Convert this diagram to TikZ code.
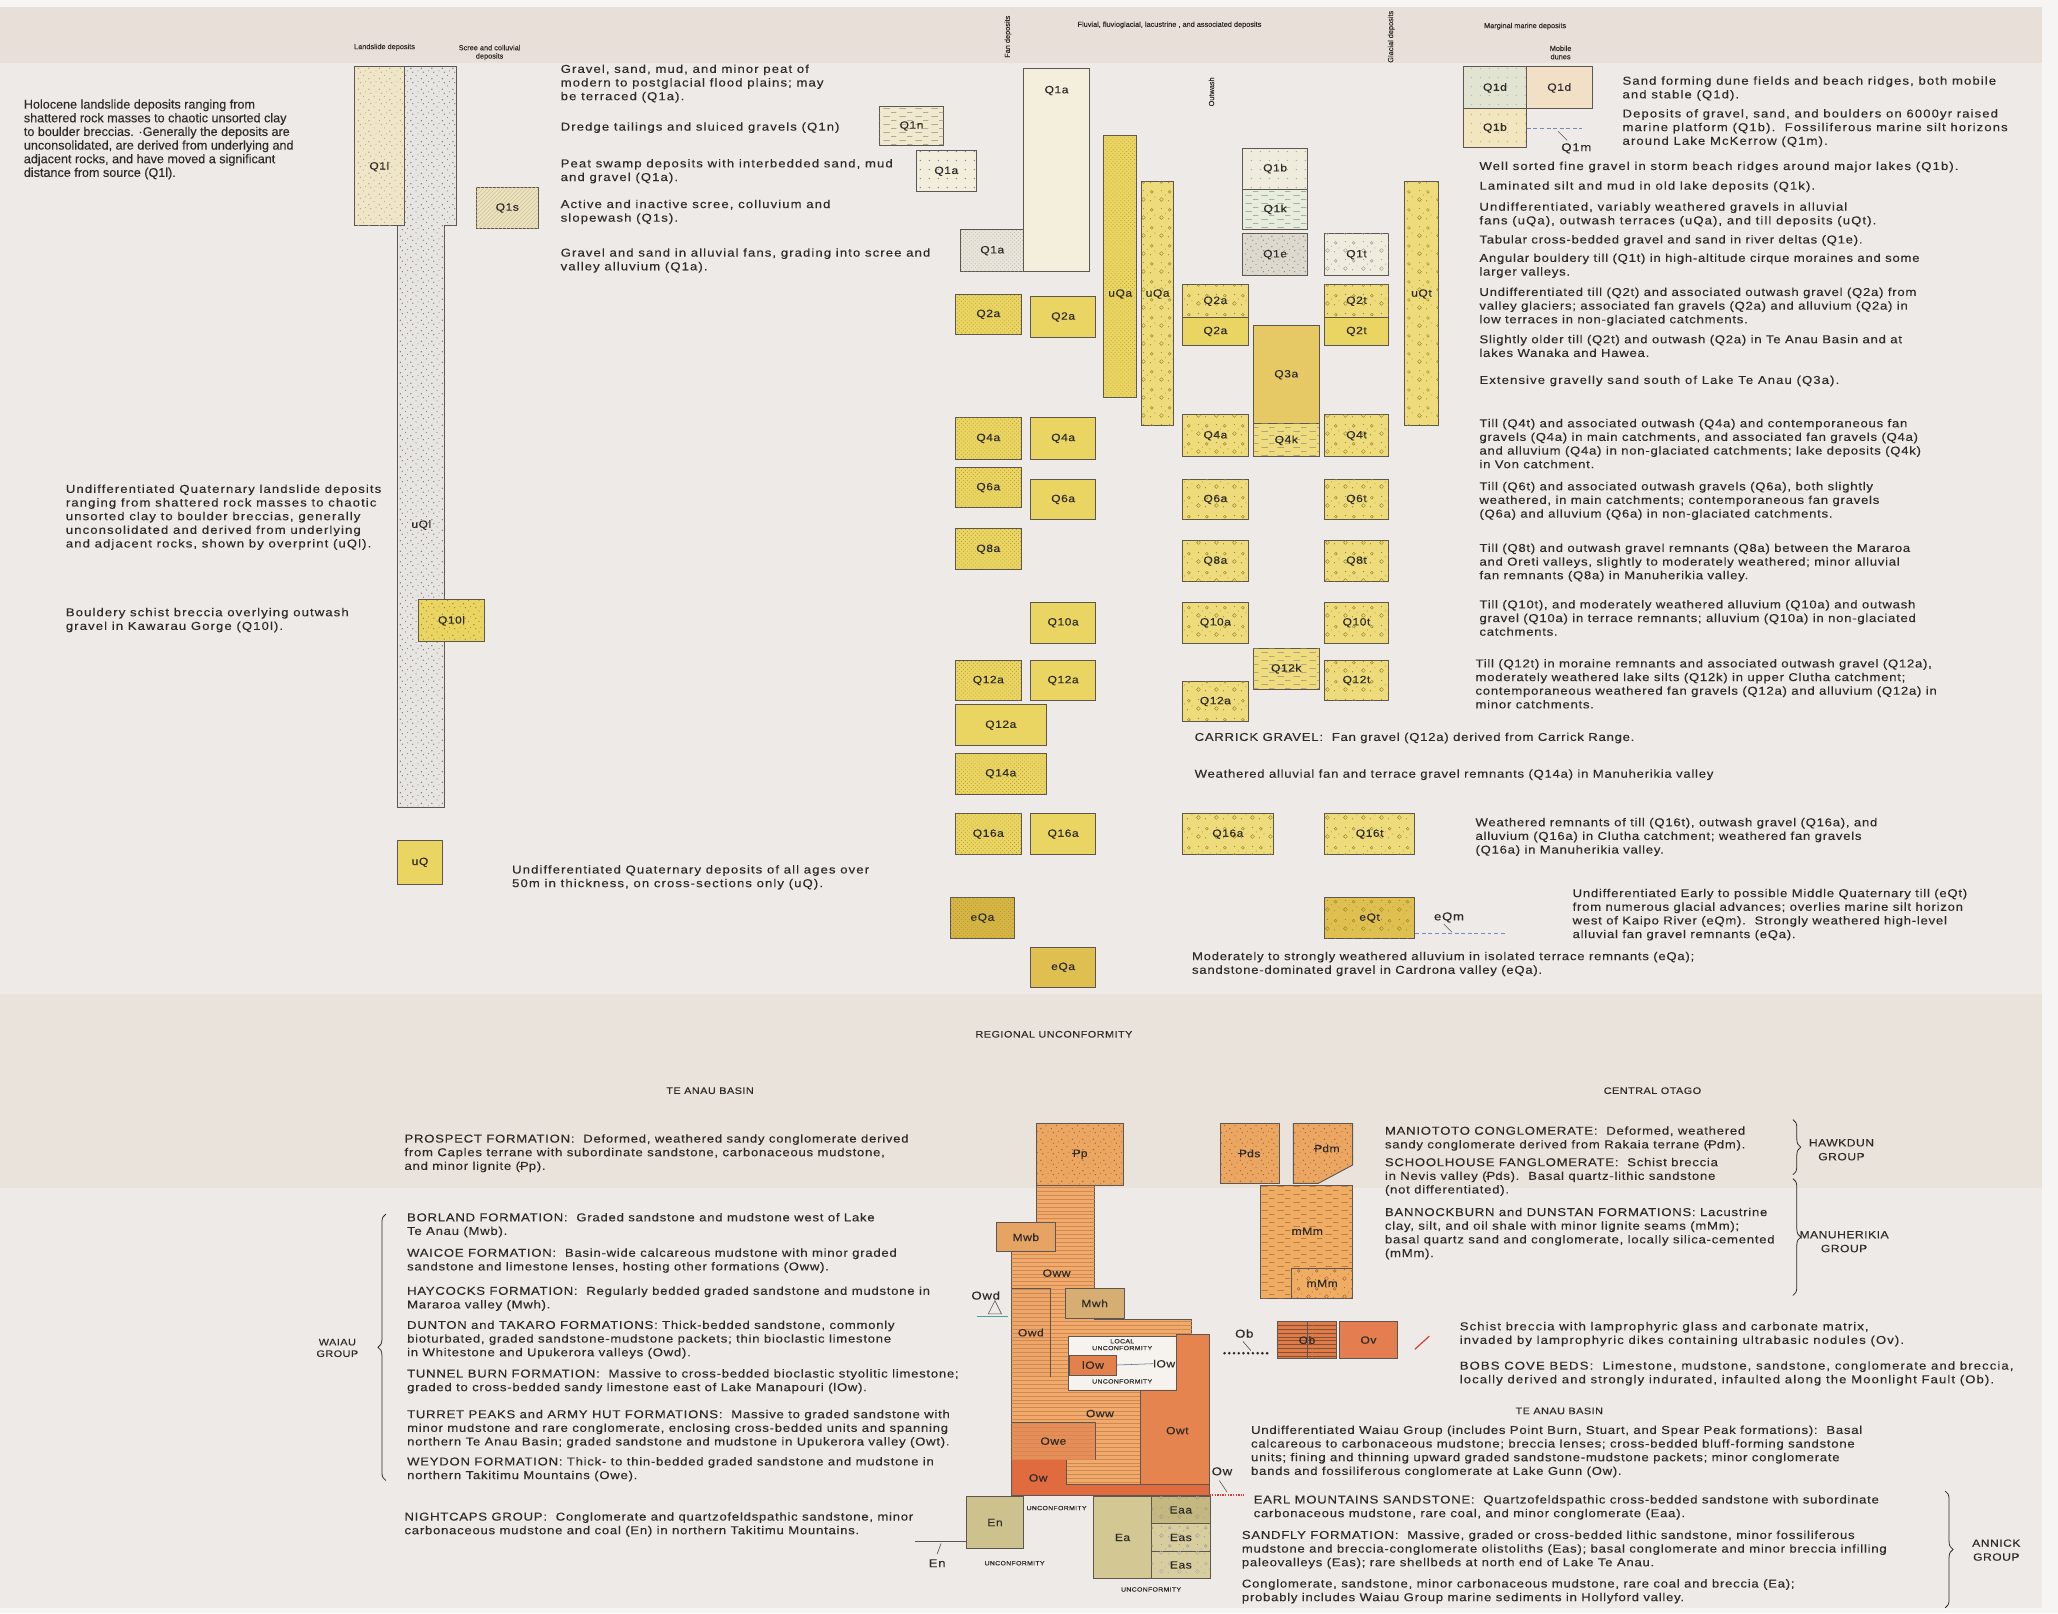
\documentclass[tikz,border=0pt]{standalone}
\usepackage{fontspec}
\setmainfont{Liberation Sans}
\newfontfamily\tff[FakeStretch=1.15,LetterSpace=6.5,FakeBold=0.2]{Liberation Sans}
\newfontfamily\tffw[FakeStretch=1.15,LetterSpace=9.5,FakeBold=0.2]{Liberation Sans}
\newfontfamily\tffl[FakeStretch=1.15,LetterSpace=5,FakeBold=0.15]{Liberation Sans}
\newfontfamily\hff[FakeBold=0.2]{Liberation Sans}
\usetikzlibrary{patterns,decorations.pathreplacing}

\definecolor{cBg}{HTML}{EDEAE7}
\definecolor{cHead}{HTML}{E8E0D8}
\definecolor{cBand}{HTML}{EAE3DC}
\definecolor{cEdge}{HTML}{F7F5F3}
\definecolor{cTxt}{HTML}{2E2A27}
\definecolor{cLn}{HTML}{5E5650}
\definecolor{cY}{HTML}{EAD563}
\definecolor{cYd}{HTML}{9C8624}
\definecolor{cYo}{HTML}{EEDC7C}
\definecolor{cQt}{HTML}{E6C865}
\definecolor{cYk}{HTML}{EFDC7E}
\definecolor{cEQ}{HTML}{D6B545}
\definecolor{cEQb}{HTML}{DFBF50}
\definecolor{cBei}{HTML}{EFE5C9}
\definecolor{cGry}{HTML}{E7E5E1}
\definecolor{cQa}{HTML}{F4EFDD}
\definecolor{cQfan}{HTML}{E8E4DA}
\definecolor{cQn}{HTML}{F1E9CE}
\definecolor{cQp}{HTML}{F2EEDB}
\definecolor{cQb}{HTML}{F0ECDD}
\definecolor{cQk}{HTML}{E7EDDD}
\definecolor{cQe}{HTML}{DDD9CF}
\definecolor{cQs}{HTML}{EDE3C3}
\definecolor{cQdg}{HTML}{E1E4D1}
\definecolor{cQdp}{HTML}{F1E0C6}
\definecolor{cQbm}{HTML}{F1E6BF}
\definecolor{cPp}{HTML}{EBA762}
\definecolor{cOww}{HTML}{F0AA6C}
\definecolor{cMwb}{HTML}{E6A464}
\definecolor{cMwh}{HTML}{D6AE74}
\definecolor{cOwd}{HTML}{ECA66A}
\definecolor{cOwe}{HTML}{E88D58}
\definecolor{cOwt}{HTML}{E6844F}
\definecolor{cOw}{HTML}{E06B3F}
\definecolor{cLow}{HTML}{E3814D}
\definecolor{cEn}{HTML}{CDC18E}
\definecolor{cEa}{HTML}{D3C894}
\definecolor{cEaa}{HTML}{C4B880}
\definecolor{cEas}{HTML}{D7CD9F}
\definecolor{cMm}{HTML}{EEAD62}
\definecolor{cOb}{HTML}{DE7B4B}
\definecolor{cOv}{HTML}{E47E51}
\definecolor{cOrL}{HTML}{A8603A}
\definecolor{cOrF}{HTML}{D08850}
\definecolor{cTeal}{HTML}{3FA89A}
\definecolor{cBlu}{HTML}{6F8FB8}
\definecolor{cRed}{HTML}{D83A3A}
\definecolor{cWin}{HTML}{F6F3EF}

\pgfdeclarepatternformonly{gravel}{\pgfqpoint{-1pt}{-1pt}}{\pgfqpoint{9pt}{9pt}}{\pgfqpoint{8pt}{8pt}}{%
 \pgfpathcircle{\pgfqpoint{1pt}{1pt}}{0.55pt}%
 \pgfpathcircle{\pgfqpoint{5pt}{3.5pt}}{0.45pt}%
 \pgfpathcircle{\pgfqpoint{2.5pt}{6pt}}{0.5pt}%
 \pgfpathcircle{\pgfqpoint{6.5pt}{7pt}}{0.4pt}%
 \pgfusepath{fill}}
\pgfdeclarepatternformonly{finedots}{\pgfqpoint{-0.5pt}{-0.5pt}}{\pgfqpoint{3.5pt}{3.5pt}}{\pgfqpoint{3pt}{3pt}}{%
 \pgfpathcircle{\pgfqpoint{0.5pt}{0.5pt}}{0.3pt}%
 \pgfpathcircle{\pgfqpoint{2pt}{2pt}}{0.3pt}%
 \pgfusepath{fill}}
\pgfdeclarepatternformonly{pebbles}{\pgfqpoint{0pt}{0pt}}{\pgfqpoint{14pt}{14pt}}{\pgfqpoint{14pt}{14pt}}{%
 \pgfsetlinewidth{0.35pt}%
 \pgfpathcircle{\pgfqpoint{3.5pt}{3.5pt}}{1.5pt}%
 \pgfpathcircle{\pgfqpoint{10pt}{9.5pt}}{1.1pt}%
 \pgfusepath{stroke}%
 \pgfpathcircle{\pgfqpoint{9pt}{2.5pt}}{0.45pt}%
 \pgfpathcircle{\pgfqpoint{3.5pt}{10.5pt}}{0.45pt}%
 \pgfpathcircle{\pgfqpoint{12.5pt}{5.5pt}}{0.4pt}%
 \pgfpathcircle{\pgfqpoint{6.5pt}{7pt}}{0.4pt}%
 \pgfusepath{fill}}
\pgfdeclarepatternformonly{dashrows}{\pgfqpoint{0pt}{-0.5pt}}{\pgfqpoint{12pt}{5.5pt}}{\pgfqpoint{12pt}{6pt}}{%
 \pgfsetlinewidth{0.35pt}%
 \pgfpathmoveto{\pgfqpoint{1pt}{0pt}}\pgfpathlineto{\pgfqpoint{6pt}{0pt}}%
 \pgfpathmoveto{\pgfqpoint{7pt}{3pt}}\pgfpathlineto{\pgfqpoint{11pt}{3pt}}%
 \pgfusepath{stroke}}
\pgfdeclarepatternformonly{sparsedots}{\pgfqpoint{0pt}{0pt}}{\pgfqpoint{7pt}{7pt}}{\pgfqpoint{7pt}{7pt}}{%
 \pgfpathcircle{\pgfqpoint{2pt}{2pt}}{0.6pt}%
 \pgfusepath{fill}}

\newcommand\mytf{\tff\fontsize{8.7}{10.4}\selectfont}
\newcommand\mytfw{\tffw\fontsize{8.7}{10.4}\selectfont}
\newcommand\myhf{\hff\fontsize{9.6}{10.4}\selectfont}
\newcommand\mylf{\tffl\fontsize{8}{9}\selectfont}
\newcommand\myhd{\hff\fontsize{5.6}{6.3}\selectfont}
\newcommand\mycap{\tffl\fontsize{7.2}{8.8}\selectfont}
\newcommand\myun{\tffl\fontsize{4.6}{5.2}\selectfont}
\newcommand{\PB}{\ooalign{P\cr\kern-0.06em\rule[0.32em]{0.34em}{0.055em}\cr}}

\tikzset{
 bxs/.style={draw=cLn, line width=0.7pt, inner sep=0pt, font=\mylf, text=cTxt, fill=cY},
 txt/.style={anchor=north west, inner sep=0pt, align=left, font=\mytf, text=cTxt},
 txtw/.style={txt, font=\mytfw},
 htxt/.style={txt, font=\myhf},
 hd/.style={inner sep=0pt, font=\myhd, text=cTxt, align=center},
 capt/.style={inner sep=0pt, font=\mycap, text=cTxt, align=center},
 lab/.style={inner sep=0pt, font=\mylf, text=cTxt},
 unc/.style={inner sep=0pt, font=\myun, text=cTxt, align=center},
 yd/.style={postaction={pattern=finedots, pattern color=cYd}},
 pb/.style={fill=cYo, postaction={pattern=pebbles, pattern color=cYd}},
 dr/.style={postaction={pattern=dashrows, pattern color=cLn!70}},
 gv/.style={postaction={pattern=gravel, pattern color=#1}},
 hl/.style={postaction={pattern=horizontal lines, pattern color=#1}},
 shp/.style={draw=cLn, line width=0.7pt},
 brc/.style={draw=cTxt, line width=0.6pt, decorate, decoration={brace, amplitude=6pt}},
}
\newcommand{\bx}[7]{\node[bxs, #6, minimum width={(#4-#2)*1pt}, minimum height={(#5-#3)*1pt}] (#1) at ({(#2+#4)/2},{(#3+#5)/2}) {#7};}
\newcommand{\tx}[4]{\node[txt] (#1) at (#2,{#3-4}) {#4};}
\newcommand{\txw}[4]{\node[txtw] (#1) at (#2,{#3-4}) {#4};}

\begin{document}
\begin{tikzpicture}[x=1pt,y=-1pt]
\useasboundingbox (0,0) rectangle (1568,1229);
% background bands
\fill[cBg] (0,0) rectangle (1568,1229);
\fill[cHead] (0,5) rectangle (1556,48);
\fill[cBand] (0,757) rectangle (1556,905);
\fill[cEdge] (0,0) rectangle (1568,5);
\fill[cEdge] (1556,0) rectangle (1568,1229);
\fill[cEdge] (0,1225) rectangle (1568,1229);

% ---------- headers ----------
\node[hd] (hLand) at (293,36) {Landslide deposits};
\node[hd] (hScree) at (373,40) {Scree and colluvial\\deposits};
\node[hd, rotate=90] (hFan) at (768,28) {Fan deposits};
\node[hd] (hFluv) at (891,19) {Fluvial, fluvioglacial, lacustrine , and associated deposits};
\node[hd, rotate=90] (hOut) at (923,70) {Outwash};
\node[hd, rotate=90] (hGlac) at (1060,28) {Glacial deposits};
\node[hd] (hMarg) at (1162,20) {Marginal marine deposits};
\node[hd] (hMob) at (1189,40) {Mobile\\dunes};

% ---------- landslide / scree ----------
\bx{Ql}{270}{51}{308}{172}{fill=cBei, gv=cYd!70}{}
\node[lab] (QlL) at (289,127) {Q1l};
\draw[shp, fill=cGry, gv=cLn!80] (308,51) -- (348,51) -- (348,172) -- (339,172) -- (339,615) -- (303,615) -- (303,172) -- (308,172) -- cycle;
\node[lab] (uQlL) at (321,400) {uQl};
\bx{Qtenl}{319}{457}{369}{489}{gv=cYd}{Q10l}
\bx{uQ}{303}{640}{337}{674}{}{uQ}
\bx{Qs}{363}{143}{410}{174}{fill=cQs, postaction={pattern=north east lines, pattern color=cYd!50}}{Q1s}

\node[htxt] (tHolo) at (18,75.6) {Holocene landslide deposits ranging from\\shattered rock masses to chaotic unsorted clay\\to boulder breccias. ·Generally the deposits are\\unconsolidated, are derived from underlying and\\adjacent rocks, and have moved a significant\\distance from source (Q1l).};
\txw{tuQl}{50}{373}{Undifferentiated Quaternary landslide deposits\\ranging from shattered rock masses to chaotic\\unsorted clay to boulder breccias, generally\\unconsolidated and derived from underlying\\and adjacent rocks, shown by overprint (uQl).}
\txw{tQtenl}{50}{467}{Bouldery schist breccia overlying outwash\\gravel in Kawarau Gorge (Q10l).}
\txw{tuQ}{390}{663}{Undifferentiated Quaternary deposits of all ages over\\50m in thickness, on cross-sections only (uQ).}

% ---------- middle text ----------
\txw{tFlood}{427}{53}{Gravel, sand, mud, and minor peat of\\modern to postglacial flood plains; may\\be terraced (Q1a).}
\txw{tDredge}{427}{97}{Dredge tailings and sluiced gravels (Q1n)}
\txw{tPeat}{427}{125}{Peat swamp deposits with interbedded sand, mud\\and gravel (Q1a).}
\txw{tScree}{427}{156}{Active and inactive scree, colluvium and\\slopewash (Q1s).}
\txw{tFanQ}{427}{193}{Gravel and sand in alluvial fans, grading into scree and\\valley alluvium (Q1a).}

% ---------- fluvial boxes ----------
\bx{Qn}{670}{81}{719}{111}{fill=cQn, dr}{Q1n}
\bx{Qp}{698}{115}{744}{146}{fill=cQp, postaction={pattern=sparsedots, pattern color=cBlu}}{Q1a}
\bx{QaBig}{780}{52}{830}{207}{fill=cQa}{}
\node[lab] (QaBigL) at (805,69) {Q1a};
\bx{QaFan}{732}{175}{780}{207}{fill=cQfan, postaction={pattern=finedots, pattern color=cLn!60}}{Q1a}
\bx{uQaA}{841}{103}{866}{303}{yd}{}
\node[lab] (uQaAL) at (853.5,224) {uQa};
\bx{uQaB}{870}{138}{894}{324}{pb}{}
\node[lab] (uQaBL) at (882,224) {uQa};
\bx{uQt}{1070}{138}{1096}{324}{pb}{}
\node[lab] (uQtL) at (1083,224) {uQt};

\bx{Qb}{947}{113}{996}{144}{fill=cQb, postaction={pattern=sparsedots, pattern color=cLn!50}}{Q1b}
\bx{Qk}{947}{144}{996}{175}{fill=cQk, dr}{Q1k}
\bx{Qe}{947}{178}{996}{210}{fill=cQe, gv=cLn!70}{Q1e}
\bx{Qt}{1009}{178}{1058}{210}{fill=cQb, postaction={pattern=pebbles, pattern color=cLn!60}}{Q1t}

\bx{QtwoaF}{728}{224}{778}{255}{yd}{Q2a}
\bx{QtwoaP}{785}{226}{835}{257}{}{Q2a}
\bx{QtwoaO}{901}{217}{951}{242}{pb}{Q2a}
\bx{QtwoaOb}{901}{242}{951}{263}{}{Q2a}
\bx{Qtwot}{1009}{217}{1058}{242}{pb}{Q2t}
\bx{Qtwotb}{1009}{242}{1058}{263}{}{Q2t}
\bx{Qthree}{955}{248}{1005}{323}{fill=cQt}{Q3a}
\bx{Qfourk}{955}{323}{1005}{348}{fill=cYk, dr}{Q4k}

\bx{QfouraF}{728}{318}{778}{350}{yd}{Q4a}
\bx{QfouraP}{785}{318}{835}{350}{}{Q4a}
\bx{QfouraO}{901}{316}{951}{348}{pb}{Q4a}
\bx{Qfourt}{1009}{316}{1058}{348}{pb}{Q4t}

\bx{QsixaF}{728}{356}{778}{387}{yd}{Q6a}
\bx{QsixaP}{785}{365}{835}{396}{}{Q6a}
\bx{QsixaO}{901}{365}{951}{396}{pb}{Q6a}
\bx{Qsixt}{1009}{365}{1058}{396}{pb}{Q6t}

\bx{QeightaF}{728}{403}{778}{434}{yd}{Q8a}
\bx{QeightaO}{901}{412}{951}{443}{pb}{Q8a}
\bx{Qeightt}{1009}{412}{1058}{443}{pb}{Q8t}

\bx{QtenaP}{785}{459}{835}{490}{}{Q10a}
\bx{QtenaO}{901}{459}{951}{490}{pb}{Q10a}
\bx{Qtent}{1009}{459}{1058}{490}{pb}{Q10t}

\bx{Qtwelvek}{955}{494}{1005}{525}{fill=cYk, dr}{Q12k}
\bx{QtwelveaF}{728}{503}{778}{534}{yd}{Q12a}
\bx{QtwelveaP}{785}{503}{835}{534}{}{Q12a}
\bx{QtwelveaO}{901}{519}{951}{550}{pb}{Q12a}
\bx{Qtwelvet}{1009}{503}{1058}{534}{pb}{Q12t}
\bx{QtwelveaW}{728}{537}{797}{568}{}{Q12a}
\bx{Qfourteen}{728}{574}{797}{605}{yd}{Q14a}
\bx{QsixteenaF}{728}{620}{778}{651}{yd}{Q16a}
\bx{QsixteenaP}{785}{620}{835}{651}{}{Q16a}
\bx{QsixteenaO}{901}{620}{970}{651}{pb}{Q16a}
\bx{Qsixteent}{1009}{620}{1078}{651}{pb}{Q16t}
\bx{eQaD}{724}{684}{773}{715}{fill=cEQ, yd}{eQa}
\bx{eQt}{1009}{684}{1078}{715}{pb, fill=cEQb}{eQt}
\bx{eQaP}{785}{722}{835}{752}{fill=cEQb}{eQa}

\node[lab, font=\mytf] (eQmL) at (1104,699) {eQm};
\coordinate (eQmEnd) at (1148,711);
\draw[cBlu, densely dashed, line width=0.5pt] (eQt.east |- eQmEnd) -- (eQmEnd);
\draw[cLn, line width=0.4pt] (1100,704) -- (1106,710);

% ---------- marginal marine ----------
\bx{Qdg}{1115}{51}{1163}{83}{fill=cQdg, postaction={pattern=sparsedots, pattern color=cLn!40}}{Q1d}
\bx{Qdp}{1163}{51}{1213}{83}{fill=cQdp}{Q1d}
\bx{Qbm}{1115}{83}{1163}{112}{fill=cQbm, postaction={pattern=sparsedots, pattern color=cYd!60}}{Q1b}
\coordinate (QmEnd) at (1205,98);
\draw[cBlu, densely dashed, line width=0.5pt] (Qbm.east |- QmEnd) -- (QmEnd);
\draw[cLn, line width=0.4pt] (1187,100) -- (1194,107);
\node[lab, font=\mytf] (QmL) at (1201,113) {Q1m};

% ---------- right text ----------
\txw{tDune}{1236}{62}{Sand forming dune fields and beach ridges, both mobile\\and stable (Q1d).}
\txw{tRaised}{1236}{87}{Deposits of gravel, sand, and boulders on 6000yr raised\\marine platform (Q1b).\ \ Fossiliferous marine silt horizons\\around Lake McKerrow (Q1m).}
\txw{tBeach}{1127}{127}{Well sorted fine gravel in storm beach ridges around major lakes (Q1b).}
\txw{tLake}{1127}{142}{Laminated silt and mud in old lake deposits (Q1k).}
\txw{tuQa}{1127}{158}{Undifferentiated, variably weathered gravels in alluvial\\fans (uQa), outwash terraces (uQa), and till deposits (uQt).}
\tx{tDelta}{1127}{183}{Tabular cross-bedded gravel and sand in river deltas (Q1e).}
\tx{tCirque}{1127}{197}{Angular bouldery till (Q1t) in high-altitude cirque moraines and some\\larger valleys.}
\tx{tQtwo}{1127}{223}{Undifferentiated till (Q2t) and associated outwash gravel (Q2a) from\\valley glaciers; associated fan gravels (Q2a) and alluvium (Q2a) in\\low terraces in non-glaciated catchments.}
\tx{tQtwob}{1127}{259}{Slightly older till (Q2t) and outwash (Q2a) in Te Anau Basin and at\\lakes Wanaka and Hawea.}
\txw{tQthree}{1127}{290}{Extensive gravelly sand south of Lake Te Anau (Q3a).}
\tx{tQfour}{1127}{323}{Till (Q4t) and associated outwash (Q4a) and contemporaneous fan\\gravels (Q4a) in main catchments, and associated fan gravels (Q4a)\\and alluvium (Q4a) in non-glaciated catchments; lake deposits (Q4k)\\in Von catchment.}
\tx{tQsix}{1127}{371}{Till (Q6t) and associated outwash gravels (Q6a), both slightly\\weathered, in main catchments; contemporaneous fan gravels\\(Q6a) and alluvium (Q6a) in non-glaciated catchments.}
\tx{tQeight}{1127}{418}{Till (Q8t) and outwash gravel remnants (Q8a) between the Mararoa\\and Oreti valleys, slightly to moderately weathered; minor alluvial\\fan remnants (Q8a) in Manuherikia valley.}
\tx{tQten}{1127}{461}{Till (Q10t), and moderately weathered alluvium (Q10a) and outwash\\gravel (Q10a) in terrace remnants; alluvium (Q10a) in non-glaciated\\catchments.}
\tx{tQtwelve}{1124}{506}{Till (Q12t) in moraine remnants and associated outwash gravel (Q12a),\\moderately weathered lake silts (Q12k) in upper Clutha catchment;\\contemporaneous weathered fan gravels (Q12a) and alluvium (Q12a) in\\minor catchments.}
\tx{tCarrick}{910}{562}{CARRICK GRAVEL:\ \ Fan gravel (Q12a) derived from Carrick Range.}
\tx{tQfourteen}{910}{590}{Weathered alluvial fan and terrace gravel remnants (Q14a) in Manuherikia valley}
\tx{tQsixteen}{1124}{627}{Weathered remnants of till (Q16t), outwash gravel (Q16a), and\\alluvium (Q16a) in Clutha catchment; weathered fan gravels\\(Q16a) in Manuherikia valley.}
\tx{teQt}{1198}{681}{Undifferentiated Early to possible Middle Quaternary till (eQt)\\from numerous glacial advances; overlies marine silt horizon\\west of Kaipo River (eQm).\ \ Strongly weathered high-level\\alluvial fan gravel remnants (eQa).}
\tx{teQa}{908}{729}{Moderately to strongly weathered alluvium in isolated terrace remnants (eQa);\\sandstone-dominated gravel in Cardrona valley (eQa).}

% ---------- lower headings ----------
\node[capt] (hRegU) at (803,788) {REGIONAL UNCONFORMITY};
\node[capt] (hTeAnau) at (541,831) {TE ANAU BASIN};
\node[capt] (hCentral) at (1259,831) {CENTRAL OTAGO};
\node[capt] (hTeAnauB) at (1188,1075) {TE ANAU BASIN};

% ---------- lower left text ----------
\tx{tProspect}{308}{868}{PROSPECT FORMATION:\ \ Deformed, weathered sandy conglomerate derived\\from Caples terrane with subordinate sandstone, carbonaceous mudstone,\\and minor lignite (\PB p).}
\tx{tBorland}{310}{928}{BORLAND FORMATION:\ \ Graded sandstone and mudstone west of Lake\\Te Anau (Mwb).}
\tx{tWaicoe}{310}{955}{WAICOE FORMATION:\ \ Basin-wide calcareous mudstone with minor graded\\sandstone and limestone lenses, hosting other formations (Oww).}
\tx{tHaycocks}{310}{984}{HAYCOCKS FORMATION:\ \ Regularly bedded graded sandstone and mudstone in\\Mararoa valley (Mwh).}
\tx{tDunton}{310}{1010}{DUNTON and TAKARO FORMATIONS: Thick-bedded sandstone, commonly\\bioturbated, graded sandstone-mudstone packets; thin bioclastic limestone\\in Whitestone and Upukerora valleys (Owd).}
\tx{tTunnel}{310}{1047}{TUNNEL BURN FORMATION:\ \ Massive to cross-bedded bioclastic styolitic limestone;\\graded to cross-bedded sandy limestone east of Lake Manapouri (lOw).}
\tx{tTurret}{310}{1078}{TURRET PEAKS and ARMY HUT FORMATIONS:\ \ Massive to graded sandstone with\\minor mudstone and rare conglomerate, enclosing cross-bedded units and spanning\\northern Te Anau Basin; graded sandstone and mudstone in Upukerora valley (Owt).}
\tx{tWeydon}{310}{1114}{WEYDON FORMATION: Thick- to thin-bedded graded sandstone and mudstone in\\northern Takitimu Mountains (Owe).}
\tx{tNightcaps}{308}{1156}{NIGHTCAPS GROUP:\ \ Conglomerate and quartzofeldspathic sandstone, minor\\carbonaceous mudstone and coal (En) in northern Takitimu Mountains.}
\draw[brc] (294,1128) -- (294,925);
\node[capt] (gWaiau) at (257,1027) {WAIAU\\GROUP};

% ---------- Te Anau chart ----------
\draw[shp, fill=cOww, hl=cOrF] (790,903) -- (834,903) -- (834,1005) -- (908,1005) -- (908,1017) -- (896.5,1017) -- (896.5,1059) -- (868.6,1059) -- (868.6,1131) -- (770.8,1131) -- (770.8,953.7) -- (790,953.7) -- cycle;
\draw[shp, fill=cWin] (814,1018.4) rectangle (896.5,1059);
\draw[shp, fill=cOwt] (896.5,1017) -- (921.4,1017) -- (921.4,1131) -- (868.6,1131) -- (868.6,1059) -- (896.5,1059) -- cycle;
\draw[shp, fill=cOw] (770.8,1112) -- (812.7,1112) -- (812.7,1131) -- (921.4,1131) -- (921.4,1139.5) -- (770.8,1139.5) -- cycle;
\bx{Pp}{790}{856}{856}{903}{fill=cPp, gv=cOrL}{\PB p}
\bx{Mwb}{759.4}{931.6}{803.8}{953.7}{fill=cMwb}{Mwb}
\bx{Owd}{770.8}{981.6}{800}{1049}{fill=cOwd, hl=cOrF}{Owd}
\bx{Mwh}{811.4}{981.6}{856.6}{1004.4}{fill=cMwh}{Mwh}
\bx{lOw}{814.7}{1032.4}{850.8}{1047.6}{fill=cLow}{lOw}
\bx{Owe}{770.8}{1084}{834.3}{1112}{fill=cOwe, hl=cOrF!80!cOwe}{Owe}
\node[lab] (OwwL) at (805,970) {Oww};
\node[lab] (OwwL2) at (838,1077) {Oww};
\node[lab] (OwtL) at (897,1090) {Owt};
\node[lab] (OwL) at (791,1126) {Ow};
\node[unc] (uLocal) at (855,1024.5) {LOCAL\\UNCONFORMITY};
\node[unc] (uLow) at (855,1052.5) {UNCONFORMITY};
\node[lab] (lOwL) at (887,1039) {lOw};
\draw[cBlu!70!black, line width=0.4pt] (lOw.east) -- (lOwL.west);

\bx{En}{736.5}{1140.3}{779.7}{1179.7}{fill=cEn}{En}
\bx{Ea}{833}{1140.3}{877.5}{1202.5}{fill=cEa}{Ea}
\bx{Eaa}{877.5}{1140.3}{921.9}{1160.6}{fill=cEaa, postaction={pattern=pebbles, pattern color=cLn!60}}{Eaa}
\bx{Eas}{877.5}{1160.6}{921.9}{1182.2}{fill=cEas, postaction={pattern=pebbles, pattern color=cLn!60}}{Eas}
\bx{Easb}{877.5}{1182.2}{921.9}{1202.5}{fill=cEas, postaction={pattern=pebbles, pattern color=cLn!50}}{Eas}
\node[unc] (uEnTop) at (805,1149) {UNCONFORMITY};
\node[unc] (uEnBot) at (773,1191) {UNCONFORMITY};
\node[unc] (uEaBot) at (877,1211) {UNCONFORMITY};

% Owd symbol
\node[lab, font=\mytf] (OwdL) at (751,987) {Owd};
\draw[cLn, line width=0.5pt] (753,1001) -- (758,991) -- (763,1001) -- cycle;
\draw[cTeal, line width=0.8pt] (744,1003) -- (768,1003);
% En leader
\node[lab, font=\mytf] (EnL) at (714,1191) {En};
\coordinate (EnA) at (697,1174);
\draw[cLn, line width=0.6pt] (EnA) -- (En.west |- EnA);
\draw[cLn, line width=0.5pt] (717,1176) -- (714,1184);
% Ow leader
\node[lab, font=\mytf] (OwL2) at (931,1121) {Ow};
\coordinate (OwB) at (948,1139);
\draw[cRed, line width=1.1pt, dash pattern=on 1pt off 1pt] (921.4,1139) -- (OwB);
\draw[cLn, line width=0.5pt] (929,1128) -- (935,1137);

% ---------- Central Otago chart ----------
\bx{Pds}{929.5}{856}{974.8}{901.6}{fill=cPp, gv=cOrL}{\PB ds}
\draw[shp, fill=cPp, gv=cOrL] (985.4,856) -- (1030.6,856) -- (1030.6,887.6) -- (1004.4,901.6) -- (985.4,901.6) -- cycle;
\node[lab] (PdmL) at (1011,875) {\PB dm};
\bx{mMm}{960}{902.9}{1030.6}{989.2}{fill=cMm, postaction={pattern=dashrows, pattern color=cOrL}}{}
\node[lab] (mMmL) at (996,938) {mMm};
\bx{mMmb}{984.1}{966.4}{1030.6}{989.2}{fill=cMm, postaction={pattern=pebbles, pattern color=cOrL}}{mMm}
\bx{Ob}{973.2}{1007}{1018.4}{1035}{fill=cOb, hl=cOrL!80!black}{Ob}
\draw[cLn, line width=0.5pt] (Ob.north) -- (Ob.south);
\bx{Ov}{1020.5}{1007}{1064.7}{1035}{fill=cOv}{Ov}
\draw[cRed, line width=0.9pt] (1078,1028) -- (1089,1018);
\node[lab, font=\mytf] (ObL) at (948,1016) {Ob};
\coordinate (ObA) at (933,1031);
\draw[cTxt, line width=2.2pt, line cap=round, dash pattern=on 0pt off 3.6pt] (ObA) -- (969,1031);
\draw[cLn, line width=0.5pt] (947,1022) -- (953,1029);

% ---------- Central Otago text ----------
\tx{tManiototo}{1055}{862}{MANIOTOTO CONGLOMERATE:\ \ Deformed, weathered\\sandy conglomerate derived from Rakaia terrane (\PB dm).}
\tx{tSchool}{1055}{886}{SCHOOLHOUSE FANGLOMERATE:\ \ Schist breccia\\in Nevis valley (\PB ds).\ \ Basal quartz-lithic sandstone\\(not differentiated).}
\tx{tBannock}{1055}{924}{BANNOCKBURN and DUNSTAN FORMATIONS: Lacustrine\\clay, silt, and oil shale with minor lignite seams (mMm);\\basal quartz sand and conglomerate, locally silica-cemented\\(mMm).}
\draw[brc] (1366,853) -- (1366,895);
\draw[brc] (1366,898) -- (1366,987);
\node[capt, font=\tffl\fontsize{8}{10.6}\selectfont] (gHawk) at (1403,876) {HAWKDUN\\GROUP};
\node[capt, font=\tffl\fontsize{8}{10.6}\selectfont] (gManu) at (1405,946) {MANUHERIKIA\\GROUP};
\txw{tSchist}{1112}{1011}{Schist breccia with lamprophyric glass and carbonate matrix,\\invaded by lamprophyric dikes containing ultrabasic nodules (Ov).}
\txw{tBobs}{1112}{1041}{BOBS COVE BEDS:\ \ Limestone, mudstone, sandstone, conglomerate and breccia,\\locally derived and strongly indurated, infaulted along the Moonlight Fault (Ob).}
\tx{tUndiffW}{953}{1090}{Undifferentiated Waiau Group (includes Point Burn, Stuart, and Spear Peak formations):\ \ Basal\\calcareous to carbonaceous mudstone; breccia lenses; cross-bedded bluff-forming sandstone\\units; fining and thinning upward graded sandstone-mudstone packets; minor conglomerate\\bands and fossiliferous conglomerate at Lake Gunn (Ow).}
\tx{tEarl}{955}{1143}{EARL MOUNTAINS SANDSTONE:\ \ Quartzofeldspathic cross-bedded sandstone with subordinate\\carbonaceous mudstone, rare coal, and minor conglomerate (Eaa).}
\tx{tSandfly}{946}{1170}{SANDFLY FORMATION:\ \ Massive, graded or cross-bedded lithic sandstone, minor fossiliferous\\mudstone and breccia-conglomerate olistoliths (Eas); basal conglomerate and minor breccia infilling\\paleovalleys (Eas); rare shellbeds at north end of Lake Te Anau.}
\tx{tConglom}{946}{1207}{Conglomerate, sandstone, minor carbonaceous mudstone, rare coal and breccia (Ea);\\probably includes Waiau Group marine sediments in Hollyford valley.}
\draw[brc] (1482,1136) -- (1482,1225);
\node[capt, font=\tffl\fontsize{8}{10.6}\selectfont] (gAnnick) at (1521,1181) {ANNICK\\GROUP};
\end{tikzpicture}
\end{document}
